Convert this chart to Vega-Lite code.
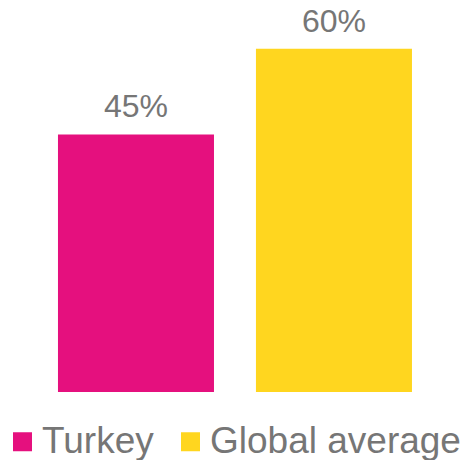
{
  "$schema": "https://vega.github.io/schema/vega-lite/v6.json",
  "width": 467,
  "height": 392,
  "padding": 0,
  "background": "white",
  "config": {"view": {"stroke": null}, "font": "Liberation Sans"},
  "data": {"values": [
    {"group": "Turkey", "value": 0.45},
    {"group": "Global average", "value": 0.60}
  ]},
  "encoding": {
    "x": {"field": "group", "type": "nominal", "sort": ["Turkey", "Global average"], "axis": null,
          "scale": {"paddingInner": 0.212, "paddingOuter": 0.2854, "align": 0.513}},
    "y": {"field": "value", "type": "quantitative", "axis": null, "scale": {"domain": [0, 0.685], "nice": false, "zero": true}}
  },
  "layer": [
    {
      "mark": {"type": "bar"},
      "encoding": {
        "color": {"field": "group", "type": "nominal",
          "scale": {"domain": ["Turkey", "Global average"], "range": ["#E5107E", "#FFD61F"]},
          "legend": {"orient": "none", "direction": "horizontal", "title": null,
            "legendX": 4, "legendY": 423, "padding": 0,
            "symbolType": "square", "symbolSize": 361, "symbolStrokeWidth": 0, "symbolOpacity": 1,
            "labelFontSize": 37, "labelColor": "#767676", "labelFont": "Liberation Sans",
            "labelOffset": 1, "columnPadding": 18, "labelLimit": 400}}
      }
    },
    {
      "mark": {"type": "text", "baseline": "alphabetic", "dy": -17, "fontSize": 32, "color": "#767676", "font": "Liberation Sans"},
      "encoding": {"text": {"field": "value", "type": "quantitative", "format": ".0%"}}
    }
  ]
}
